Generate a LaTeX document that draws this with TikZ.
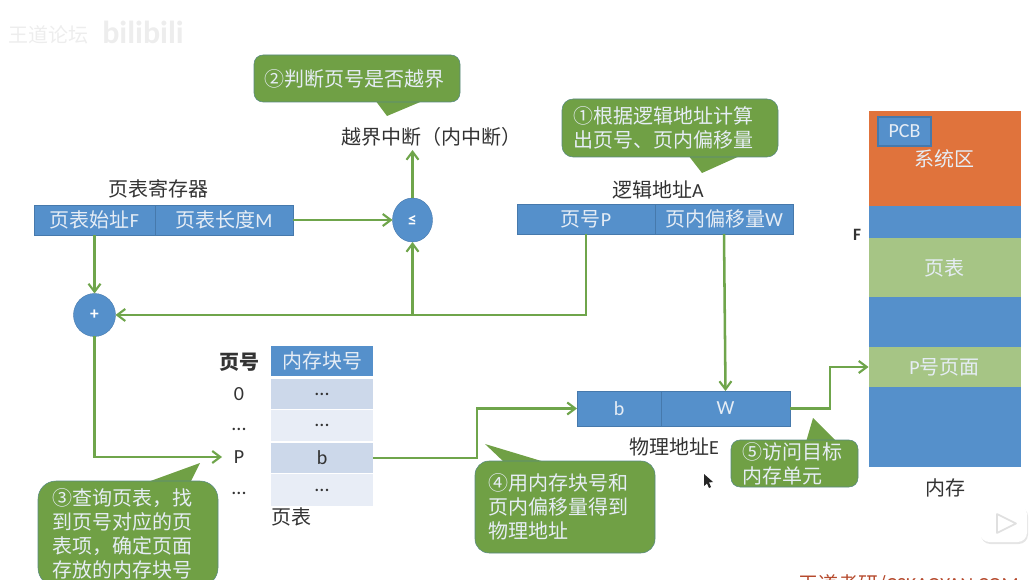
\documentclass[tikz,border=0pt]{standalone}
\usepackage{fontspec}
\setmainfont{Noto Sans CJK SC}
\newfontfamily\latf{Carlito}
\newcommand\lat[1]{{\latf #1}}
\usetikzlibrary{arrows.meta,shapes.geometric,calc}
\definecolor{cblue}{HTML}{5590CB}
\definecolor{cedge}{HTML}{4679AC}
\definecolor{corange}{HTML}{E0733C}
\definecolor{clgreen}{HTML}{A6C585}
\definecolor{cgreen}{HTML}{70A045}
\definecolor{cline}{HTML}{6FA54B}
\definecolor{rowd}{HTML}{CCD8EA}
\definecolor{rowl}{HTML}{E8EDF6}
\definecolor{softw}{HTML}{E6EDF5}
\definecolor{ink}{HTML}{333333}
\definecolor{sitec}{HTML}{B5492C}
\tikzset{
  cell/.style 2 args={rectangle,inner sep=0pt,outer sep=0pt,minimum width=#1*0.75pt,minimum height=#2*0.75pt,
    font=\fontsize{15}{17}\selectfont,text=softw},
  bluecell/.style 2 args={cell={#1}{#2},fill=cblue,draw=cedge,line width=0.4pt},
  memcell/.style n args={3}{cell={#1}{#2},fill=#3},
  rowcell/.style n args={3}{cell={#1}{#2},fill=#3,text=ink},
  lbl/.style={inner sep=0pt,outer sep=0pt,text=ink,font=\fontsize{15}{17}\selectfont},
  idx/.style={lbl,minimum width=34*0.75pt,minimum height=20*0.75pt},
  oper/.style={ellipse,inner sep=0pt,outer sep=0pt,fill=cblue,draw=cedge,line width=0.3pt,text=white,font=\latf\bfseries\fontsize{13}{14}\selectfont},
  callout/.style n args={4}{rectangle,rounded corners=#3*0.75pt,fill=cgreen,draw=cedge!60!cgreen,line width=0.4pt,
    inner sep=0pt,outer sep=0pt,minimum width=#1*0.75pt,minimum height=#2*0.75pt,
    text width=(#1-2*#4)*0.75pt,text=softw,align=left,font=\fontsize{15}{18}\selectfont},
  tail/.style={fill=cgreen},
  flow/.style={draw=cline,line width=1.9pt},
  arr/.style={flow,-{Straight Barb[length=6pt,width=9pt,line width=1.6pt]}},
}
\begin{document}
\begin{tikzpicture}[x=0.75pt,y=-0.75pt]
\useasboundingbox (0,0) rectangle (1034,580);
\clip (0,0) rectangle (1034,580);

% faint watermarks
\node[text=black!7,font=\fontsize{15}{18}\selectfont,inner sep=0pt] (wm1) at (48,35) {王道论坛};
\node[text=black!7,font=\latf\bfseries\fontsize{24}{28}\selectfont,inner sep=0pt] (wm2) at (143,32) {bilibili};

% page table register
\node[lbl] (regt) at (158,189) {页表寄存器};
\node[bluecell={121}{30}] (regF) at (94.5,220) {页表始址\lat{F}};
\node[bluecell={138}{30}] (regM) at (224,220) {页表长度\lat{M}};

% comparison and adder
\node[oper,minimum width=40*0.75pt,minimum height=44*0.75pt] (le) at (412.5,220) {≤};
\node[oper,minimum width=42*0.75pt,minimum height=43*0.75pt] (plus) at (94.5,315) {+};
\node[lbl] (ovf) at (431,137) {越界中断（内中断）};

% logical address
\node[lbl] (logt) at (658,190) {逻辑地址\lat{A}};
\node[bluecell={138}{30}] (pp) at (586,219) {页号\lat{P}};
\node[bluecell={138}{30}] (ow) at (724,219) {页内偏移量\lat{W}};

% page table
\node[lbl,font=\bfseries\fontsize{15}{17}\selectfont] (ph) at (239,362) {页号};
\node[bluecell={102}{30},draw=none] (hd) at (322,361) {内存块号};
\node[rowcell={102}{30}{rowd}] (r0) at (322,394) {\lat{...}};
\node[rowcell={102}{31}{rowl}] (r1) at (322,425.5) {\lat{...}};
\node[rowcell={102}{30}{rowd}] (rb) at (322,458) {\lat{b}};
\node[rowcell={102}{32}{rowl}] (r3) at (322,490) {\lat{...}};
\node[idx,font=\latf\fontsize{15}{17}\selectfont] (i0) at (239,394) {0};
\node[idx] (i1) at (239,429) {\lat{...}};
\node[idx,font=\latf\fontsize{15}{17}\selectfont] (iP) at (239,457) {P};
\node[idx] (i3) at (239,493) {\lat{...}};
\node[lbl] (ptt) at (291,517) {页表};

% physical address
\node[bluecell={84}{35}] (pb) at (619,408.5) {\lat{b}};
\node[bluecell={129}{35}] (pw) at (725.5,408.5) {\lat{W}};
\node[lbl] (phyt) at (674,447) {物理地址\lat{E}};

% memory
\node[memcell={152}{95}{corange}] (msys) at (944.5,158.5) {系统区};
\node[memcell={152}{32}{cblue}] (m1) at (944.5,222) {};
\node[memcell={152}{59}{clgreen}] (mpt) at (944.5,267.5) {页表};
\node[memcell={152}{50}{cblue}] (m2) at (944.5,322) {};
\node[memcell={152}{40}{clgreen}] (mpage) at (944.5,367) {\lat{P}号页面};
\node[memcell={152}{80}{cblue}] (m3) at (944.5,427) {};
\node[bluecell={53}{29},line width=0.8pt] (pcb) at (904.5,131.5) {\lat{PCB}};
\node[lbl] (memt) at (945,488) {内存};
\node[lbl,font=\latf\bfseries\fontsize{13}{15}\selectfont] (ff) at (857,235) {F};

% callouts
\fill[tail] (375,100) -- (387,116) -- (425,100) -- cycle;
\node[callout={206}{47}{9}{10}] (c2) at (357,78.5) {②判断页号是否越界};
\fill[tail] (688,155) -- (702,173) -- (742,155) -- cycle;
\node[callout={216}{58}{11}{11}] (c1) at (670,128) {①根据逻辑地址计算\\出页号、页内偏移量};
\fill[tail] (145,483) -- (200,463) -- (190,483) -- cycle;
\node[callout={180}{105}{18}{14}] (c3) at (128,533.5) {③查询页表，找\\到页号对应的页\\表项，确定页面\\存放的内存块号};
\fill[tail] (485,444) -- (505,463) -- (548,463) -- cycle;
\node[callout={180}{92}{14}{13}] (c4) at (565,507) {④用内存块号和\\页内偏移量得到\\物理地址};
\fill[tail] (806,442) -- (813,418) -- (837,442) -- cycle;
\node[callout={127}{47}{9}{11}] (c5) at (794.5,463.5) {⑤访问目标\\内存单元};

% connectors
\draw[arr] (regM.east) -- (le.west);
\draw[arr] (le.north) -- (le.north |- 0,150);
\draw[arr] (regF.south) -- (plus.north);
\draw[arr] (pp.south) |- (plus.east);
\draw[arr] (le.south |- plus.east) -- (le.south);
\draw[arr] (ow.south) -- (pw.north);
\draw[arr] (plus.south) |- (iP.west);
\coordinate (k1) at (477,0);
\coordinate (k2) at (830,0);
\draw[arr] (rb.east) -| (k1 |- pb.west) -- (pb.west);
\draw[arr] (pw.east) -| (k2 |- mpage.west) -- (mpage.west);

% mouse cursor
\fill[black!85] (704,474) -- (704,486) -- (707,483.5) -- (709,488) -- (711,487) -- (709,482.5) -- (713,482) -- cycle;

% player logo and site mark
\fill[black!10,rounded corners=7pt] (981,507) rectangle (1028,544);
\fill[white,rounded corners=7pt] (980,505) rectangle (1027,542);
\draw[black!12,line width=1.2pt,line join=round,fill=white] (997,514) -- (997,533) -- (1016,523.5) -- cycle;
\node[anchor=base west,inner sep=0pt,text=sitec,font=\fontsize{15}{18}\selectfont] (site) at (798,591) {王道考研/\lat{CSKAOYAN.COM}};
\end{tikzpicture}
\end{document}
